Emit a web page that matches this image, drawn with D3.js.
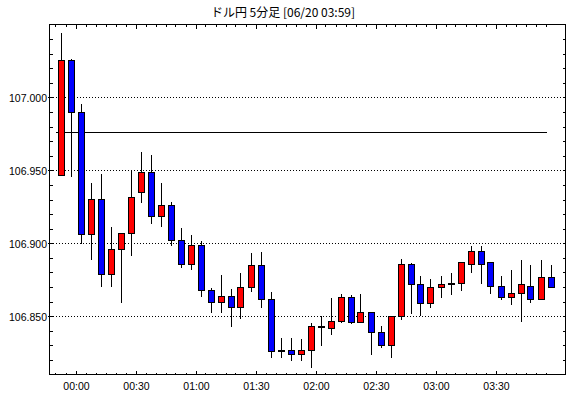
<!DOCTYPE html>
<html>
<head>
<meta charset="utf-8">
<script src="https://cdn.jsdelivr.net/npm/d3@7"></script>
<style>
  body { margin: 0; background: #fff; }
  svg { display: block; }
  line, rect { shape-rendering: crispEdges; }
  text { font-family: "Liberation Sans", Arial, sans-serif; fill: #000; }
</style>
</head>
<body>
<svg id="chart" width="570" height="398"></svg>
<script>
const title = 'ドル円 5分足 [06/20 03:59]';

// ---- 時刻 (5分足)
const times = [
    '23:50', '23:55', '00:00', '00:05', '00:10', '00:15', '00:20', '00:25', '00:30', '00:35',
    '00:40', '00:45', '00:50', '00:55', '01:00', '01:05', '01:10', '01:15', '01:20', '01:25',
    '01:30', '01:35', '01:40', '01:45', '01:50', '01:55', '02:00', '02:05', '02:10', '02:15',
    '02:20', '02:25', '02:30', '02:35', '02:40', '02:45', '02:50', '02:55', '03:00', '03:05',
    '03:10', '03:15', '03:20', '03:25', '03:30', '03:35', '03:40', '03:45', '03:50', '03:55'
];

const open = [
    106.947, 107.026, 106.990, 106.906, 106.930, 106.879, 106.896, 106.907, 106.935, 106.949,
    106.919, 106.926, 106.902, 106.886, 106.899, 106.868, 106.860, 106.864, 106.856, 106.870,
    106.885, 106.862, 106.826, 106.827, 106.824, 106.827, 106.843, 106.842, 106.847, 106.863,
    106.846, 106.853, 106.839, 106.830, 106.850, 106.886, 106.872, 106.859, 106.870, 106.872,
    106.873, 106.886, 106.895, 106.887, 106.871, 106.863, 106.866, 106.871, 106.862, 106.877
];
const high = [
    107.045, 107.027, 106.996, 106.942, 106.948, 106.912, 106.908, 106.951, 106.963, 106.961,
    106.942, 106.929, 106.911, 106.906, 106.902, 106.870, 106.879, 106.869, 106.880, 106.894,
    106.895, 106.867, 106.836, 106.836, 106.835, 106.846, 106.851, 106.863, 106.866, 106.865,
    106.866, 106.853, 106.844, 106.851, 106.890, 106.887, 106.878, 106.876, 106.878, 106.880,
    106.887, 106.899, 106.899, 106.888, 106.878, 106.882, 106.889, 106.886, 106.889, 106.886
];
const low = [
    106.947, 106.946, 106.900, 106.889, 106.871, 106.871, 106.860, 106.892, 106.928, 106.914,
    106.912, 106.899, 106.884, 106.882, 106.864, 106.853, 106.853, 106.843, 106.849, 106.867,
    106.856, 106.822, 106.822, 106.820, 106.820, 106.815, 106.830, 106.838, 106.846, 106.845,
    106.846, 106.824, 106.829, 106.822, 106.848, 106.852, 106.851, 106.856, 106.863, 106.865,
    106.868, 106.880, 106.873, 106.866, 106.862, 106.858, 106.847, 106.860, 106.862, 106.870
];
const close = [
    107.026, 106.990, 106.906, 106.930, 106.879, 106.896, 106.907, 106.932, 106.949, 106.919,
    106.926, 106.902, 106.886, 106.899, 106.868, 106.860, 106.864, 106.856, 106.870, 106.885,
    106.862, 106.826, 106.827, 106.824, 106.827, 106.843, 106.843, 106.847, 106.863, 106.846,
    106.853, 106.839, 106.830, 106.850, 106.886, 106.872, 106.859, 106.870, 106.872, 106.873,
    106.887, 106.895, 106.886, 106.871, 106.863, 106.866, 106.872, 106.862, 106.877, 106.870
];

const refLine = 106.976;
const gridValues = [106.85, 106.90, 106.95, 107.00];
const xLabels = ['00:00', '00:30', '01:00', '01:30', '02:00', '02:30', '03:00', '03:30'];

// ---- 分に変換 (00:00 = 0)
function toMin(s) {
    const [h, m] = s.split(':').map(Number);
    return (h >= 12 ? h - 24 : h) * 60 + m;
}

const data = times.map((t, i) => ({
    t: toMin(t), o: open[i], h: high[i], l: low[i], c: close[i]
}));

const svg = d3.select('#chart');
const margens = { left: 49.5, right: 4.5, top: 24.5, bottom: 23.5 };
const W = 570, H = 398;
const width  = W - margens.left - margens.right;
const height = H - margens.top  - margens.bottom;

// ---- Escalas
const mapX = d3.scaleLinear().domain([-13, 245]).range([margens.left, margens.left + width]);
const mapY = d3.scaleLinear().domain([106.81, 107.05]).range([margens.top + height, margens.top]);
const py = v => Math.round(mapY(v)) + 0.5;
const cx = d => Math.round(mapX(d.t + 2.5)) + 0.5;

// ---- Título
svg.append('text')
    .attr('x', 283)
    .attr('y', 17)
    .attr('text-anchor', 'middle')
    .style('font-family', '"Noto Sans CJK JP", "Liberation Sans", sans-serif')
    .style('font-size', '12px')
    .text(title);

// ---- Grade pontilhada
svg.append('g')
    .selectAll('line')
    .data(gridValues)
    .join('line')
    .attr('x1', margens.left)
    .attr('x2', margens.left + width)
    .attr('y1', d => py(d))
    .attr('y2', d => py(d))
    .attr('stroke', '#000')
    .attr('stroke-dasharray', '1,2');

// ---- Linha de referência
svg.append('line')
    .attr('x1', Math.round(mapX(data[0].t)) + 0.5)
    .attr('x2', Math.round(mapX(data[data.length - 1].t)) + 0.5)
    .attr('y1', py(refLine))
    .attr('y2', py(refLine))
    .attr('stroke', '#000');

// ---- Velas
const candles = svg.append('g')
    .selectAll('g')
    .data(data)
    .join('g');

candles.append('line')
    .attr('x1', cx)
    .attr('x2', cx)
    .attr('y1', d => py(d.h))
    .attr('y2', d => py(d.l))
    .attr('stroke', '#000');

candles.append('rect')
    .attr('x', d => cx(d) - 3)
    .attr('y', d => py(Math.max(d.o, d.c)))
    .attr('width', 6)
    .attr('height', d => Math.max(1, py(Math.min(d.o, d.c)) - py(Math.max(d.o, d.c))))
    .attr('fill', d => d.c >= d.o ? '#ff0000' : '#0000ff')
    .attr('stroke', '#000');

// ---- Moldura
svg.append('rect')
    .attr('x', margens.left)
    .attr('y', margens.top)
    .attr('width', width)
    .attr('height', height)
    .attr('fill', 'none')
    .attr('stroke', '#000');

// ---- Marcas do eixo X (cada 5 min)
const xTicks = d3.range(data[0].t, data[data.length - 1].t + 1, 5);
const xt = svg.append('g');
xTicks.forEach(t => {
    const x = Math.round(mapX(t)) + 0.5;
    const len = t % 30 === 0 ? 4 : 2;
    xt.append('line').attr('x1', x).attr('x2', x)
        .attr('y1', margens.top + height).attr('y2', margens.top + height - len).attr('stroke', '#000');
    xt.append('line').attr('x1', x).attr('x2', x)
        .attr('y1', margens.top).attr('y2', margens.top + len).attr('stroke', '#000');
});

svg.append('g')
    .selectAll('text')
    .data(xLabels)
    .join('text')
    .attr('x', d => Math.round(mapX(toMin(d))) + 0.5)
    .attr('y', 390)
    .attr('text-anchor', 'middle')
    .style('font-size', '10.5px')
    .text(d => d);

// ---- Marcas do eixo Y (cada 0.01)
const yTicks = d3.range(106.82, 107.045, 0.01);
const yt = svg.append('g');
yTicks.forEach(v => {
    const y = py(v);
    const major = gridValues.some(g => Math.abs(g - v) < 1e-6);
    yt.append('line').attr('x1', margens.left - (major ? 2 : 0)).attr('x2', margens.left + 3)
        .attr('y1', y).attr('y2', y).attr('stroke', '#000');
    yt.append('line').attr('x1', margens.left + width).attr('x2', margens.left + width - 3)
        .attr('y1', y).attr('y2', y).attr('stroke', '#000');
});

svg.append('g')
    .selectAll('text')
    .data(gridValues)
    .join('text')
    .attr('x', 47)
    .attr('y', d => py(d) + 4)
    .attr('text-anchor', 'end')
    .style('font-size', '10.5px')
    .text(d => d3.format('.3f')(d));
</script>
</body>
</html>
